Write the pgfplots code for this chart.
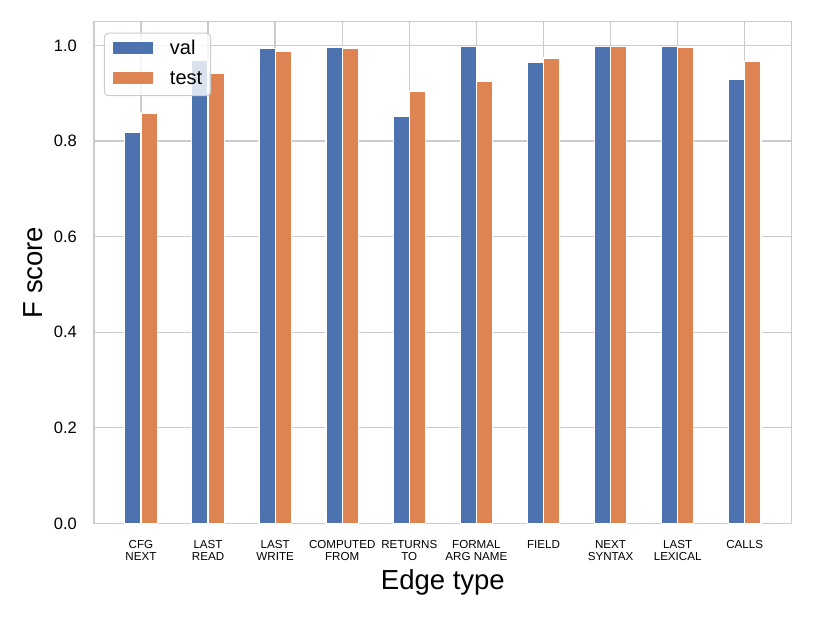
\documentclass[border=0pt]{standalone}
\usepackage{fontspec}
\setmainfont{Liberation Sans}
\usepackage{pgfplots}
\pgfplotsset{compat=1.18}
\definecolor{sbblue}{HTML}{4C72B0}
\definecolor{sborange}{HTML}{DD8452}
\definecolor{gridgray}{HTML}{CCCCCC}
\begin{document}
\begin{tikzpicture}
\useasboundingbox (0,0) rectangle (814pt,617pt);
\begin{axis}[
  at={(94pt,93.6pt)}, anchor=south west,
  scale only axis, width=697.7pt, height=501.7pt,
  xmin=-0.7, xmax=9.7, ymin=0, ymax=1.05,
  ybar=0pt, bar width=16.2pt,
  axis line style={draw=gridgray, line width=1.5pt},
  grid=major, major grid style={draw=gridgray, line width=1.3pt},
  major tick length=0pt,
  xtick={0,...,9},
  xticklabels={{CFG\\NEXT},{LAST\\READ},{LAST\\WRITE},{COMPUTED\\FROM},{RETURNS\\TO},{FORMAL\\ARG NAME},{FIELD},{NEXT\\SYNTAX},{LAST\\LEXICAL},{CALLS}},
  xticklabel style={font=\fontsize{11.6}{12.4}\selectfont, align=center, anchor=north, inner sep=0pt, yshift=-16.8pt},
  ytick={0,0.2,0.4,0.6,0.8,1.0},
  yticklabel style={font=\fontsize{16.5}{19}\selectfont, anchor=east, inner sep=0pt, xshift=-17pt},
  /pgf/number format/assume math mode=true,
  yticklabel={\pgfmathprintnumber[fixed,fixed zerofill,precision=1]{\tick}},
  xlabel={Edge type}, ylabel={F score},
  xlabel style={font=\fontsize{27.5}{30}\selectfont, at={(axis description cs:0.5,-0.1325)}, anchor=base, inner sep=0pt},
  ylabel style={font=\fontsize{27.5}{30}\selectfont, at={(axis description cs:-0.0742,0.5)}, anchor=base, inner sep=0pt},
  legend style={at={(axis description cs:0.0143,0.978)}, anchor=north west,
    draw=gridgray, line width=1pt, rounded corners=4pt, fill=white, fill opacity=0.8, text opacity=1,
    font=\fontsize{20}{24}\selectfont, inner xsep=8.5pt, inner ysep=6.5pt,
    nodes={inner sep=0pt, text height=14.5pt, text depth=4.5pt},
    column sep=17pt, row sep=11.5pt},
  legend cell align=left,
  mylegend/.style={legend image code/.code={\fill[##1, draw=none, sharp corners, fill opacity=1] (0pt,-4.5pt) rectangle (40pt,7.5pt);}},
]
\addplot[fill=sbblue, draw=white, line width=1.2pt, mylegend] coordinates {
(0,0.819) (1,0.968) (2,0.994) (3,0.997) (4,0.852) (5,0.998) (6,0.965) (7,0.998) (8,0.998) (9,0.930)};
\addplot[fill=sborange, draw=white, line width=1.2pt, mylegend] coordinates {
(0,0.859) (1,0.942) (2,0.988) (3,0.994) (4,0.905) (5,0.926) (6,0.974) (7,0.998) (8,0.997) (9,0.967)};
\legend{val,test}
\end{axis}
\end{tikzpicture}
\end{document}
